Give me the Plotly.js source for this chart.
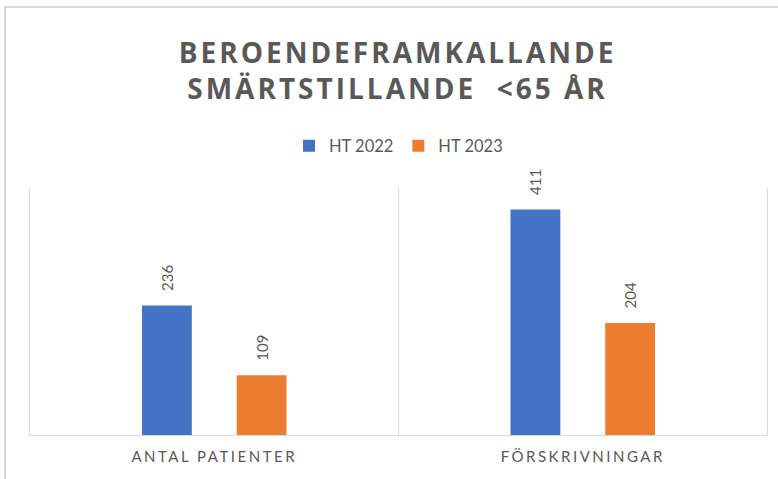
<!DOCTYPE html>
<html>
<head>
<meta charset="utf-8">
<script src="https://cdn.plot.ly/plotly-3.0.1.min.js"></script>
<style>
  html, body { margin: 0; padding: 0; background: #fff; overflow: hidden; }
  #wrap { position: relative; width: 778px; height: 479px; }
  #chart { width: 778px; height: 479px; }
  #frame { position: absolute; left: 4px; top: 6px; width: 900px; height: 600px;
           border: 2px solid #d9d9d9; pointer-events: none; box-sizing: border-box; }
  .gtitle { letter-spacing: 3px; }
  .xtick text { letter-spacing: 2.5px; }
</style>
</head>
<body>
<div id="wrap">
  <div id="chart"></div>
  <div id="frame"></div>
</div>
<script>
const categories = ["ANTAL PATIENTER", "FÖRSKRIVNINGAR"];
const seriesNames = ["HT 2022", "HT 2023"];
const ht2022 = [236, 411];
const ht2023 = [109, 204];
const colors = ["#4472C4", "#ED7D31"];

const textFont = {family: "Lato, 'Open Sans', sans-serif", size: 15, color: "#595959"};

function barTrace(name, values, color) {
  return {
    type: "bar",
    name: name,
    x: categories,
    y: values,
    marker: {color: color},
    texttemplate: "\u00A0\u00A0\u00A0%{y}",
    textposition: "outside",
    textangle: -90,
    constraintext: "none",
    cliponaxis: false,
    outsidetextfont: textFont,
    hoverinfo: "x+y+name"
  };
}

const data = [
  barTrace(seriesNames[0], ht2022, colors[0]),
  barTrace(seriesNames[1], ht2023, colors[1])
];

const layout = {
  width: 778,
  height: 479,
  margin: {l: 30, r: 11, t: 188, b: 44},
  paper_bgcolor: "#ffffff",
  plot_bgcolor: "#ffffff",
  font: textFont,
  title: {
    text: "BEROENDEFRAMKALLANDE<br>SMÄRTSTILLANDE  <65 ÅR",
    font: {family: "'Open Sans', Lato, sans-serif", size: 28, color: "#595959", weight: "bold"},
    x: 0.511,
    xanchor: "center",
    xref: "container",
    yref: "container",
    y: 0.869,
    yanchor: "middle"
  },
  barmode: "group",
  bargap: 0.486,
  bargroupgap: 0.474,
  showlegend: true,
  legend: {
    orientation: "h",
    x: 0.5,
    xanchor: "center",
    y: 1.17,
    yanchor: "middle",
    font: {family: "Lato, 'Open Sans', sans-serif", size: 16.5, color: "#595959"},
    bgcolor: "rgba(0,0,0,0)"
  },
  xaxis: {
    type: "category",
    tickson: "boundaries",
    showgrid: true,
    gridcolor: "#d9d9d9",
    gridwidth: 1,
    showline: true,
    linecolor: "#d9d9d9",
    linewidth: 1,
    ticks: "",
    ticklabelstandoff: 8,
    tickfont: {family: "Lato, sans-serif", size: 15, color: "#595959"},
    zeroline: false
  },
  yaxis: {
    range: [0, 450],
    showticklabels: false,
    ticks: "",
    showgrid: false,
    zeroline: false,
    showline: true,
    mirror: true,
    linecolor: "#d9d9d9",
    linewidth: 1
  }
};

Plotly.newPlot("chart", data, layout, {staticPlot: true, displayModeBar: false});
</script>
</body>
</html>
